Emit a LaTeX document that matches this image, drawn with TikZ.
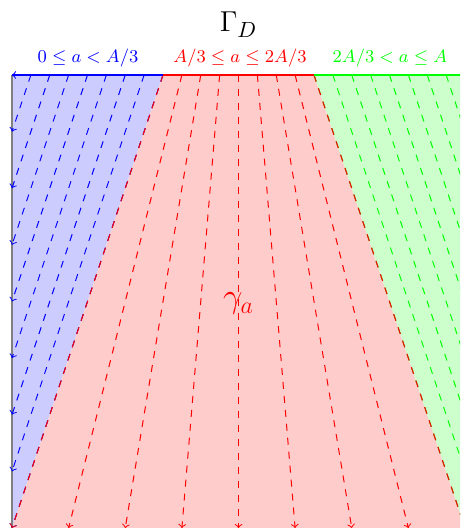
\documentclass[tikz,border=0pt]{standalone}
\usepackage{amsmath,amssymb}
\usetikzlibrary{calc}

\begin{document}
\begin{tikzpicture}[
    x=0.5pt, y=0.5pt,
    flow/.style={dash pattern=on 3.5pt off 3.5pt, ->, >=to, line width=0.5pt},
    edge/.style={line width=1pt},
    lbl/.style={anchor=base, font=\fontsize{8.7}{10}\selectfont}
]
    \useasboundingbox (0,0) rectangle (460,528);
    \clip (0,0) rectangle (460,528);

    % corners of the domain and the thirds of the top side
    \coordinate (bl) at (12,0);
    \coordinate (br) at (465,0);
    \coordinate (tl) at (12,453);
    \coordinate (tr) at (465,453);
    \coordinate (t1) at (163,453);
    \coordinate (t2) at (314,453);

    % regions
    \fill[blue!20] (tl) -- (t1) -- (bl) -- cycle;
    \fill[red!20] (t1) -- (t2) -- (br) -- (bl) -- cycle;
    \fill[green!20] (t2) -- (tr) -- (br) -- cycle;

    \draw[gray, line width=0.8pt] (tl) -- (bl);

    % characteristics
    \draw[blue, ->, >=to, line width=0.5pt] ($(tl)+(3,0)$) -- (tl);
    \foreach \k in {1,...,8}
        \draw[flow, blue] ($(tl)!\k/8!(t1)$) -- ($(tl)!\k/8!(bl)$);
    \foreach \k in {0,...,7}
        \draw[flow, green] ($(t2)!\k/8!(tr)$) -- ($(br)!\k/8!(tr)$);
    \foreach \k in {0,...,8}
        \draw[flow, red] ($(t1)!\k/8!(t2)$) -- ($(bl)!\k/8!(br)$);

    % boundary Gamma_D
    \draw[edge, blue] (tl) -- (t1);
    \draw[edge, red] (t1) -- (t2);
    \draw[edge, green] (t2) -- (tr);

    \node[anchor=base, font=\fontsize{15}{18}\selectfont] (gam) at (238.5,496) {$\Gamma_D$};
    \node[lbl, text=blue] (lb) at (88,465) {$0\le a<A/3$};
    \node[lbl, text=red] (lr) at (240,465) {$A/3\le a\le 2A/3$};
    \node[lbl, text=green] (lg) at (390,465) {$2A/3<a\le A$};
    \node[anchor=base, text=red, font=\LARGE] (ga) at (238.5,220) {$\gamma_a$};
\end{tikzpicture}
\end{document}
